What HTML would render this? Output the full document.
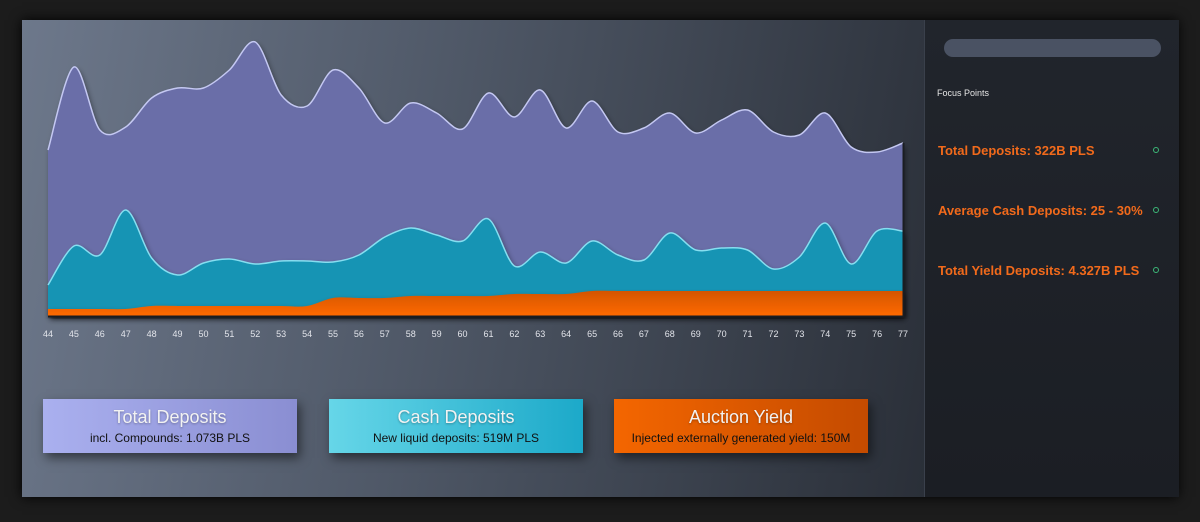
<!DOCTYPE html>
<html><head><meta charset="utf-8">
<style>
html,body{margin:0;padding:0;background:#1c1c1c;width:1200px;height:522px;overflow:hidden;font-family:"Liberation Sans",sans-serif}
#card{position:absolute;left:22px;top:20px;width:1156px;height:477px;background:#1f232a;box-shadow:0 0 12px #000}
#main{position:absolute;left:0;top:0;width:902px;height:477px;background:linear-gradient(100deg,#6d788b 0%,#4f5867 45%,#2a2f38 100%)}
#side{position:absolute;left:902px;top:0;width:254px;height:477px;background:linear-gradient(180deg,#21252c,#1b1e24);border-left:1px solid #3a404b}
.pill{position:absolute;left:19px;top:19px;width:217px;height:18px;border-radius:9px;background:#4a5263}
.fp{position:absolute;left:12px;top:68px;font-size:9px;color:#e6e6e6}
.item{position:absolute;left:13px;font-size:13px;font-weight:bold;color:#f26a1b}
.dot{position:absolute;left:228px;width:4px;height:4px;border:1.5px solid #3cb878;border-radius:50%}
.box{position:absolute;top:379px;width:254px;height:54px;text-align:center;box-shadow:3px 5px 10px rgba(0,0,0,.5)}
.box .t{font-size:18px;color:#f2f2f2;margin-top:8px;text-shadow:0 1px 2px rgba(0,0,0,.3)}
.box .s{font-size:12px;color:#111;margin-top:3px}
svg{position:absolute;left:0;top:0}
</style></head><body>
<div id="card">
<div id="main">
<svg id="chart" width="902" height="360"></svg>
<div class="box" style="left:21px;background:linear-gradient(90deg,#aab0ef,#8a8ed2)"><div class="t">Total Deposits</div><div class="s">incl. Compounds: 1.073B PLS</div></div>
<div class="box" style="left:307px;background:linear-gradient(90deg,#66d6e8,#1ca9c9)"><div class="t">Cash Deposits</div><div class="s">New liquid deposits: 519M PLS</div></div>
<div class="box" style="left:592px;background:linear-gradient(90deg,#f46600,#c44b00)"><div class="t">Auction Yield</div><div class="s">Injected externally generated yield: 150M</div></div>
</div>
<div id="side">
<div class="pill"></div>
<div class="fp">Focus Points</div>
<div class="item" style="top:123px">Total Deposits: 322B PLS</div>
<div class="dot" style="top:127px"></div>
<div class="item" style="top:183px">Average Cash Deposits: 25 - 30%</div>
<div class="dot" style="top:187px"></div>
<div class="item" style="top:243px">Total Yield Deposits: 4.327B PLS</div>
<div class="dot" style="top:247px"></div>
</div>
</div>
<script>
const categories=[44,45,46,47,48,49,50,51,52,53,54,55,56,57,58,59,60,61,62,63,64,65,66,67,68,69,70,71,72,73,74,75,76,77];
const totalDeposits=[166,249,186,189,218,228,228,246,274,221,210,246,228,193,213,203,187,223,199,226,188,215,184,188,203,183,196,206,184,181,203,169,164,173];
const cashDeposits=[31,70,61,106,58,41,53,57,52,55,55,54,61,79,88,81,75,97,50,64,53,75,61,56,83,66,68,66,47,59,93,52,85,85];
const auctionYield=[7,7,7,7,10,10,10,10,10,10,10,18,18,18,20,20,20,20,22,22,22,25,25,25,25,25,25,25,25,25,25,25,25,25];
const NS="http://www.w3.org/2000/svg";
const svg=document.getElementById('chart');
const x0=26,x1=881,yBase=296;
function xs(i){return x0+(x1-x0)*i/(categories.length-1);}
function ys(v){return yBase-v;}
function curve(vals){
  const p=vals.map((v,i)=>[xs(i),ys(v)]);
  let d='M'+p[0][0]+','+p[0][1];
  for(let i=0;i<p.length-1;i++){
    const a=p[Math.max(0,i-1)],b=p[i],c=p[i+1],e=p[Math.min(p.length-1,i+2)];
    const t=0.16;
    d+=' C'+(b[0]+(c[0]-a[0])*t)+','+(b[1]+(c[1]-a[1])*t)+' '+(c[0]-(e[0]-b[0])*t)+','+(c[1]-(e[1]-b[1])*t)+' '+c[0]+','+c[1];
  }
  return d;
}
svg.innerHTML='<defs><linearGradient id="og" x1="0" y1="0" x2="0" y2="1"><stop offset="0" stop-color="#d45500"/><stop offset="1" stop-color="#ff6a00"/></linearGradient><filter id="sh" x="-5%" y="-5%" width="110%" height="115%"><feDropShadow dx="2" dy="3" stdDeviation="3" flood-color="#000" flood-opacity="0.45"/></filter></defs>';
const series=[[totalDeposits,'#6a6ea8','#c4c8f2','series-total-deposits'],[cashDeposits,'#1394b4','#86def0','series-cash-deposits'],[auctionYield,'url(#og)','none','series-auction-yield']];
series.forEach(s=>{
  const c=curve(s[0]);
  const area=document.createElementNS(NS,'path');
  area.setAttribute('d',c+' L'+x1+','+yBase+' L'+x0+','+yBase+' Z');
  area.setAttribute('fill',s[1]);
  area.setAttribute('filter','url(#sh)');
  
  
  svg.appendChild(area);
  if(s[2]!=='none'){
    const ln=document.createElementNS(NS,'path');
    ln.setAttribute('d',c);ln.setAttribute('fill','none');ln.setAttribute('stroke',s[2]);ln.setAttribute('stroke-width','1.5');
    
    
    svg.appendChild(ln);
  }
});
const edge=document.createElementNS(NS,'path');
edge.setAttribute('d','M'+x0+','+(yBase+0.5)+' L'+(x1+0.5)+','+(yBase+0.5)+' L'+(x1+0.5)+','+ys(totalDeposits[totalDeposits.length-1]));
edge.setAttribute('fill','none');edge.setAttribute('stroke','#1a1d22');edge.setAttribute('stroke-width','2');


svg.appendChild(edge);
categories.forEach((c,i)=>{
  const t=document.createElementNS(NS,'text');
  t.setAttribute('x',xs(i));t.setAttribute('y',317);t.setAttribute('text-anchor','middle');
  t.setAttribute('font-size','9');t.setAttribute('fill','#e2e4ea');t.setAttribute('font-family','Liberation Sans, sans-serif');
  t.textContent=c;
  
  
  svg.appendChild(t);
});
</script>
</body></html>
